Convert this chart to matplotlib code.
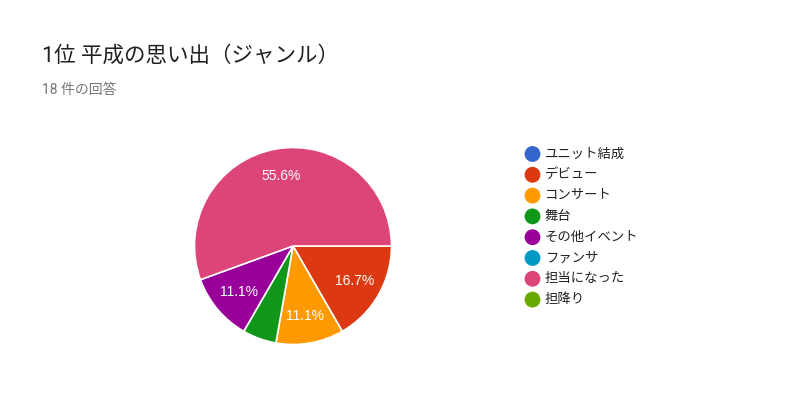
import matplotlib
matplotlib.use("Agg")
import matplotlib.pyplot as plt

# データ（18 件の回答）
genres = ["ユニット結成", "デビュー", "コンサート", "舞台", "その他イベント", "ファンサ", "担当になった", "担降り"]
counts = [0, 3, 2, 1, 2, 0, 10, 0]
colors = ["#3366cc", "#dc3912", "#ff9900", "#109618", "#990099", "#0099c6", "#dd4477", "#66aa00"]

title = "1位 平成の思い出（ジャンル）"
subtitle = "18 件の回答"

plt.rcParams["font.family"] = ["Roboto", "Noto Sans CJK JP", "DejaVu Sans"]

W, H = 800, 400
fig = plt.figure(figsize=(W / 100, H / 100), dpi=100)
fig.patch.set_facecolor("white")

# 円グラフ（中心 293,246 / 半径 98.5 px）
cx, cy, r = 293, 246, 98.5
ax = fig.add_axes([(cx - r) / W, (H - cy - r) / H, 2 * r / W, 2 * r / H])

vals = [c for c in counts if c > 0]
cols = [col for c, col in zip(counts, colors) if c > 0]


def pct_label(p):
    # 小さいスライスにはラベルなし
    return f"{p:.1f}%" if p >= 8 else ""


wedges, texts, autotexts = ax.pie(
    vals, colors=cols, startangle=0, counterclock=False,
    autopct=pct_label, pctdistance=0.72,
    wedgeprops=dict(edgecolor="white", linewidth=1.2),
    textprops=dict(color="white", fontsize=10, family=["Liberation Sans", "DejaVu Sans"]),
)
ax.set_xlim(-1, 1)
ax.set_ylim(-1, 1)
ax.set_aspect("equal")
ax.axis("off")

# タイトル
fig.text(42 / W, 1 - 56 / H, title, fontsize=15.5, color="#212121", va="center", ha="left")
fig.text(42 / W, 1 - 90 / H, subtitle, fontsize=10, color="#757575", va="center", ha="left")

# 凡例
ov = fig.add_axes([0, 0, 1, 1])
ov.set_xlim(0, W)
ov.set_ylim(H, 0)
ov.axis("off")
y0, dy = 154, 20.8
for i, (g, col) in enumerate(zip(genres, colors)):
    y = y0 + i * dy
    ov.scatter([532.5], [y], s=130, color=col, edgecolors="none")
    ov.text(545, y, g, fontsize=9.6, color="#212121", va="center", ha="left")

fig.savefig("out.png", dpi=100)
